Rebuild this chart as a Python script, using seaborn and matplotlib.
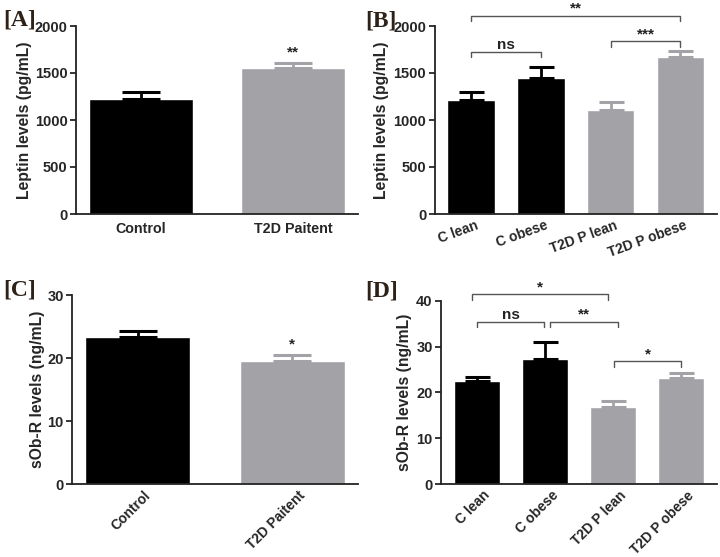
"""Leptin and sOb-R levels in controls vs T2D patients (four-panel bar chart)."""

import numpy as np
import matplotlib
matplotlib.use("Agg")
import matplotlib.pyplot as plt
import matplotlib.transforms as mtransforms
import seaborn as sns

# ---- data -------------------------------------------------------------
groups_2 = ["Control", "T2D Paitent"]
groups_4 = ["C lean", "C obese", "T2D P lean", "T2D P obese"]

leptin_2 = [1227, 1553]
leptin_2_sem = [71, 50]
leptin_4 = [1213, 1443, 1106, 1674]
leptin_4_sem = [86, 118, 82, 56]

sobr_2 = [23.4, 19.6]
sobr_2_sem = [1.0, 0.9]
sobr_4 = [22.5, 27.3, 16.9, 23.1]
sobr_4_sem = [0.9, 3.7, 1.3, 1.1]

# significance brackets: (x1, x2, y, label)
sig_b = [(0, 3, 2110, "**"), (0, 1, 1727, "ns"), (2, 3, 1837, "***")]
sig_d = [(-0.07, 1.93, 41.4, "*"), (0.01, 0.99, 35.4, "ns"),
         (1.07, 2.07, 35.4, "**"), (2.01, 3.0, 26.8, "*")]

BLACK = "#000000"
GREY = "#a3a2a7"

sns.set_style("ticks")
plt.rcParams["font.family"] = ["Liberation Sans", "DejaVu Sans"]
plt.rcParams["font.weight"] = "bold"

W, H = 720, 557
fig = plt.figure(figsize=(W / 100, H / 100), dpi=100)


def add_ax(left, right, top, bottom):
    return fig.add_axes([left / W, 1 - bottom / H, (right - left) / W, (bottom - top) / H])


def bars(ax, cats, vals, sems, colors, capsize):
    sns.barplot(x=cats, y=vals, hue=cats, palette=colors, width=0.68,
                saturation=1, legend=False, errorbar=None, ax=ax)
    for i, (v, e, c) in enumerate(zip(vals, sems, colors)):
        ax.errorbar(i, v, yerr=[[0], [e]], fmt="none", ecolor=c,
                    elinewidth=2, capsize=capsize, capthick=2.2, zorder=1)


def style(ax, ylim, yticks, ylabel, rot, label_dx, labelpad):
    ax.set_ylim(*ylim)
    ax.set_yticks(yticks)
    ax.set_ylabel(ylabel, fontsize=11.3, fontweight="bold", labelpad=labelpad)
    sns.despine(ax=ax)
    for s in ("left", "bottom"):
        ax.spines[s].set_linewidth(1.3)
        ax.spines[s].set_color("#222222")
    ax.tick_params(axis="y", length=4, width=1.3, labelsize=10.5, pad=2)
    ax.tick_params(axis="x", length=0, labelsize=10.3 if not rot else 10,
                   pad=6 if not rot else 3)
    for t in ax.get_yticklabels():
        t.set_fontweight("bold")
    if rot:
        off = mtransforms.ScaledTranslation(label_dx / 100, 0, fig.dpi_scale_trans)
        for t in ax.get_xticklabels():
            t.set_rotation(rot)
            t.set_ha("right")
            t.set_va("top")
            t.set_rotation_mode("anchor")
            t.set_fontweight("bold")
            t.set_transform(t.get_transform() + off)
    else:
        for t in ax.get_xticklabels():
            t.set_fontweight("bold")


def brackets(ax, items, h):
    for x1, x2, y, lab in items:
        ax.plot([x1, x1, x2, x2], [y - h, y, y, y - h], color="#555555",
                lw=1, clip_on=False)
        ax.text((x1 + x2) / 2, y, lab, ha="center", va="bottom",
                fontsize=11, fontweight="bold", color="#222222")


def panel_letter(x, y, s):
    fig.text(x / W, 1 - y / H, s, fontsize=17, fontweight="bold",
             family=["Liberation Serif", "DejaVu Serif"], color="#2e2118",
             ha="left", va="center")


# ---- [A] --------------------------------------------------------------
ax_a = add_ax(76, 358, 26, 214)
bars(ax_a, groups_2, leptin_2, leptin_2_sem, [BLACK, GREY], 13.5)
style(ax_a, (0, 2000), np.arange(0, 2001, 500), "Leptin levels (pg/mL)", 0, 0, 2)
ax_a.text(1, leptin_2[1] + leptin_2_sem[1] + 40, "**", ha="center",
          va="bottom", fontsize=11, fontweight="bold")

# ---- [B] --------------------------------------------------------------
ax_b = add_ax(434.5, 717, 26, 214)
bars(ax_b, groups_4, leptin_4, leptin_4_sem, [BLACK, BLACK, GREY, GREY], 9)
style(ax_b, (0, 2000), np.arange(0, 2001, 500), "Leptin levels (pg/mL)", 20, 4, 3)
brackets(ax_b, sig_b, 60)

# ---- [C] --------------------------------------------------------------
ax_c = add_ax(72, 358, 295.3, 484)
bars(ax_c, groups_2, sobr_2, sobr_2_sem, [BLACK, GREY], 13.5)
style(ax_c, (0, 30), np.arange(0, 31, 10), "sOb-R levels (ng/mL)", 45, 6, 2)
ax_c.text(1, sobr_2[1] + sobr_2_sem[1] + 0.6, "*", ha="center",
          va="bottom", fontsize=11, fontweight="bold")

# ---- [D] --------------------------------------------------------------
ax_d = add_ax(441, 717, 300.7, 484)
bars(ax_d, groups_4, sobr_4, sobr_4_sem, [BLACK, BLACK, GREY, GREY], 9)
style(ax_d, (0, 40), np.arange(0, 41, 10), "sOb-R levels (ng/mL)", 45, 6, 3)
brackets(ax_d, sig_d, 1.2)

panel_letter(3, 20, "[A]")
panel_letter(365, 21, "[B]")
panel_letter(3, 290, "[C]")
panel_letter(365, 291, "[D]")

fig.savefig("out.png", dpi=100, facecolor="white")
